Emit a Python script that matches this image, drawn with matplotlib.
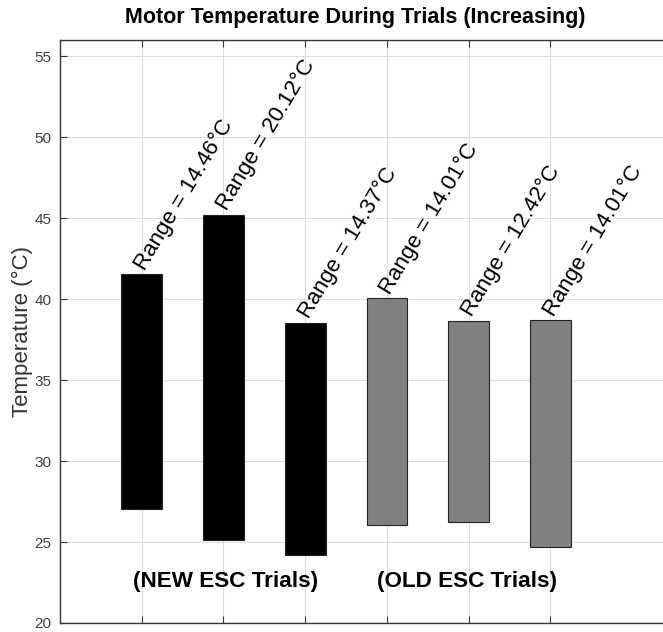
import numpy as np
import matplotlib
matplotlib.use("Agg")
import matplotlib.pyplot as plt

plt.rcParams["font.family"] = ["Liberation Sans", "DejaVu Sans"]

# data
trials = [1, 2, 3, 4, 5, 6]
t_min = [27.06, 25.10, 24.18, 26.03, 26.25, 24.70]
t_max = [41.52, 45.22, 38.55, 40.04, 38.67, 38.71]
groups = ["(NEW ESC Trials)", "(OLD ESC Trials)"]
group_x = [2.02, 4.98]
colors = ["black", "black", "black", "#808080", "#808080", "#808080"]

fig = plt.figure(figsize=(6.63, 6.32), dpi=100)
ax = fig.add_axes([60 / 663, 9 / 632, 613 / 663, 583 / 632])

ranges = np.array(t_max) - np.array(t_min)
ax.bar(trials, ranges, bottom=t_min, width=0.5, color=colors,
       edgecolor="#222222", linewidth=0.8, zorder=3)

for x, top, r in zip(trials, t_max, ranges):
    ax.text(x - 0.02, top + 0.35, "Range = %.2f°C" % r, rotation=59,
            rotation_mode="anchor", ha="left", va="center", fontsize=16)

for x, lab in zip(group_x, groups):
    ax.text(x, 22.55, lab, ha="center", va="center", fontsize=16.2,
            fontweight="bold")

ax.set_xlim(0, 7.5)
ax.set_ylim(20, 56)
ax.set_xticks(trials)
ax.set_xticklabels([])
ax.set_yticks(np.arange(20, 56, 5))
ax.tick_params(direction="in", length=5, top=True, labelsize=11,
               labelcolor="#404040", color="#333333", pad=6)
ax.grid(True, color="#dddddd", linewidth=0.8, zorder=0)
ax.set_axisbelow(True)
for s in ax.spines.values():
    s.set_color("#333333")
    s.set_linewidth(1.0)

ax.set_ylabel("Temperature (°C)", fontsize=16, color="#333333", labelpad=1)
fig.text(355 / 663, 1 - 18 / 632, "Motor Temperature During Trials (Increasing)",
         ha="center", va="center", fontsize=15.5, fontweight="bold")

plt.savefig("out.png", dpi=100)
